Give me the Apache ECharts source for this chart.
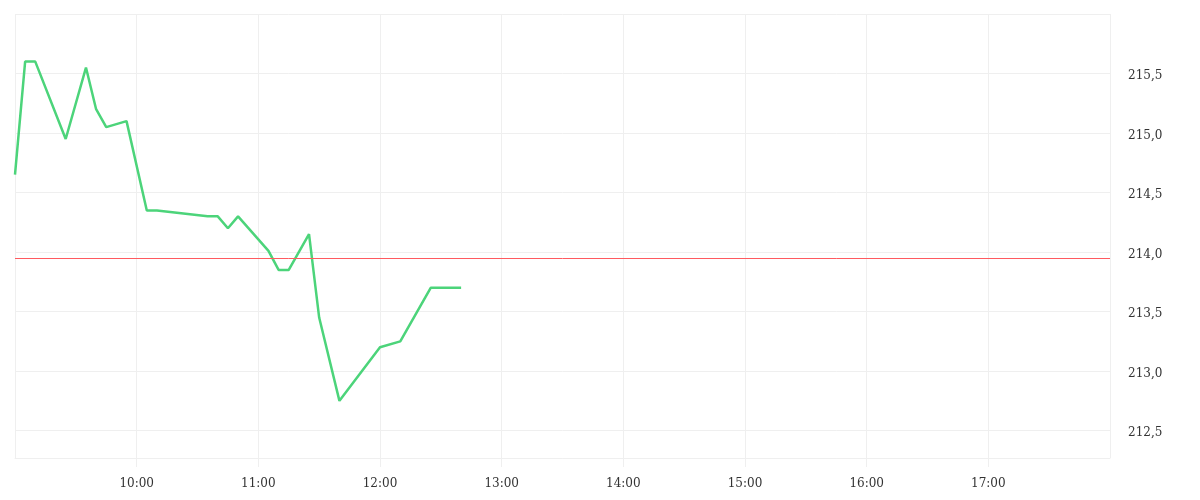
<!DOCTYPE html>
<html>
<head>
<meta charset="utf-8">
<script src="https://cdn.jsdelivr.net/npm/echarts@6/dist/echarts.min.js"></script>
<style>
html,body{margin:0;padding:0;background:#fff;}
#chart{width:1200px;height:500px;}
</style>
</head>
<body>
<div id="chart"></div>
<script>
var times = ['09:00','09:05','09:10','09:25','09:35','09:40','09:45','09:55','10:05','10:10','10:35','10:40','10:45','10:50','11:05','11:10','11:15','11:25','11:30','11:40','12:00','12:10','12:25','12:40'];
var prices = [214.65,215.60,215.60,214.95,215.55,215.20,215.05,215.10,214.35,214.35,214.30,214.30,214.20,214.30,214.01,213.85,213.85,214.15,213.45,212.75,213.20,213.25,213.70,213.70];
var referencePrice = 213.95;
var sessionStart = '09:00';
var sessionEnd = '18:00';
var yMin = 212.27;
var yMax = 216.0;

function toMin(t){ var p = t.split(':'); return (+p[0])*60 + (+p[1]); }
function fmtTime(m){ var h = Math.floor(m/60), mm = m%60; return (h<10?'0':'')+h+':'+(mm<10?'0':'')+mm; }

var data = times.map(function(t,i){ return [toMin(t), prices[i]]; });
var font = 'DejaVu Serif';
var gridColor = '#efefef';

var chart = echarts.init(document.getElementById('chart'));
chart.setOption({
  animation: false,
  grid: { left: 15, right: 90, top: 14, bottom: 42 },
  xAxis: {
    type: 'value',
    min: toMin(sessionStart),
    max: toMin(sessionEnd),
    interval: 60,
    axisLine: { show: true, lineStyle: { color: gridColor } },
    axisTick: { show: true, length: 9, lineStyle: { color: gridColor } },
    splitLine: { show: true, lineStyle: { color: gridColor } },
    axisLabel: {
      showMinLabel: false, showMaxLabel: false,
      color: '#333', fontFamily: font, fontSize: 12, margin: 20,
      formatter: function(v){ return fmtTime(v); }
    }
  },
  yAxis: {
    type: 'value',
    position: 'right',
    min: yMin,
    max: yMax,
    splitNumber: 7,
    axisLine: { show: false },
    axisTick: { show: false },
    splitLine: { show: true, lineStyle: { color: gridColor } },
    axisLabel: {
      showMinLabel: false, showMaxLabel: false,
      color: '#333', fontFamily: font, fontSize: 12, margin: 18,
      verticalAlign: 'top', lineHeight: 5,
      formatter: function(v){ return v.toFixed(1).replace('.', ','); }
    }
  },
  series: [{
    type: 'line',
    data: data,
    showSymbol: false,
    symbol: 'none',
    lineStyle: { color: '#4cd47a', width: 2.5 },
    markLine: {
      silent: true,
      symbol: ['none','none'],
      label: { show: false },
      lineStyle: { color: '#ff5a5f', width: 1, type: 'solid' },
      data: [{ yAxis: referencePrice }]
    }
  }]
});
</script>
</body>
</html>
